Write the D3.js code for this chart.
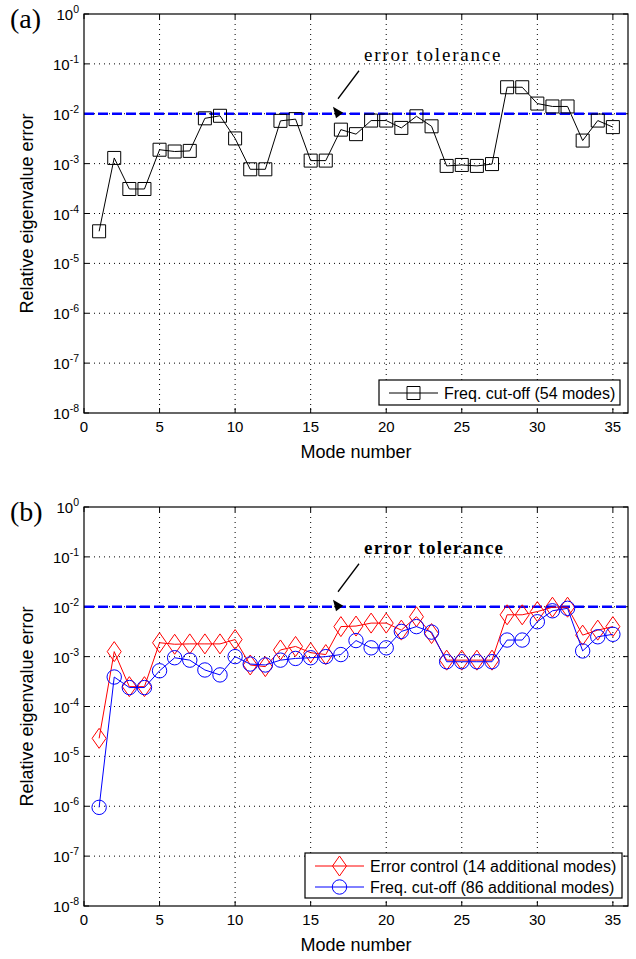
<!DOCTYPE html>
<html>
<head>
<meta charset="utf-8">
<script src="https://cdn.jsdelivr.net/npm/d3@7"></script>
<style>
  body { margin: 0; background: #fff; }
</style>
</head>
<body>
<div id="chart"></div>
<script>
var modes = [1,2,3,4,5,6,7,8,9,10,11,12,13,14,15,16,17,18,19,20,21,22,23,24,25,26,27,28,29,30,31,32,33,34,35]
var xTicks = [0,5,10,15,20,25,30,35]
var yExps = [0,-1,-2,-3,-4,-5,-6,-7,-8]
var tolerance = 1e-2

// panel (a): frequency cut-off, 54 modes
var freqA = [4.4e-5, 1.3e-3, 3.1e-4, 3.1e-4, 1.9e-3, 1.75e-3, 1.8e-3, 8.1e-3, 9.1e-3, 3.2e-3,
  7.7e-4, 7.7e-4, 7.2e-3, 7.8e-3, 1.15e-3, 1.15e-3, 4.8e-3, 3.9e-3, 7.3e-3, 7.3e-3,
  5.2e-3, 8.9e-3, 5.6e-3, 9.0e-4, 9.4e-4, 9.0e-4, 9.8e-4, 3.4e-2, 3.4e-2, 1.6e-2,
  1.4e-2, 1.4e-2, 2.9e-3, 7.3e-3, 5.4e-3]

// panel (b)
var errCtrl = [2.3e-5, 1.26e-3, 2.5e-4, 2.5e-4, 1.9e-3, 1.77e-3, 1.8e-3, 1.8e-3, 1.8e-3, 2.2e-3,
  6.8e-4, 6.3e-4, 1.36e-3, 1.6e-3, 1.2e-3, 1.1e-3, 4.0e-3, 4.1e-3, 4.7e-3, 4.7e-3,
  3.4e-3, 6.3e-3, 2.9e-3, 8.5e-4, 8.5e-4, 8.5e-4, 8.5e-4, 6.9e-3, 6.9e-3, 8.0e-3,
  9.8e-3, 9.8e-3, 2.7e-3, 3.4e-3, 4.0e-3]
var freqB = [9.5e-7, 3.9e-4, 2.4e-4, 2.4e-4, 5.2e-4, 9.5e-4, 8.5e-4, 5.4e-4, 4.3e-4, 1.0e-3,
  7.1e-4, 6.8e-4, 8.5e-4, 9.2e-4, 9.5e-4, 1.0e-3, 1.1e-3, 2.1e-3, 1.5e-3, 1.5e-3,
  3.2e-3, 4.0e-3, 3.1e-3, 7.9e-4, 7.9e-4, 7.9e-4, 7.9e-4, 2.15e-3, 2.15e-3, 5.0e-3,
  8.3e-3, 9.3e-3, 1.3e-3, 2.5e-3, 2.8e-3]

var W = 636, H = 959
var svg = d3.select("#chart").append("svg").attr("width", W).attr("height", H)
  .attr("font-family", "Liberation Sans, Arial, sans-serif")
var serif = "Liberation Serif, Times New Roman, serif"

var left = 84, right = 628

function panel(top, bottom, label, series, legend, legBox, boldNote) {
  var x = d3.scaleLinear().domain([0, 36]).range([left, right])
  var y = d3.scaleLog().domain([1e-8, 1]).range([bottom, top])
  var g = svg.append("g")

  // grid
  g.selectAll(".gx").data(xTicks.slice(1)).enter().append("line")
    .attr("x1", function(d) {return x(d)}).attr("x2", function(d) {return x(d)})
    .attr("y1", top).attr("y2", bottom)
    .attr("stroke", "#000").attr("stroke-width", 1).attr("stroke-dasharray", "1,4")
  g.selectAll(".gy").data(yExps.slice(1, -1)).enter().append("line")
    .attr("x1", left).attr("x2", right)
    .attr("y1", function(d) {return y(Math.pow(10, d))}).attr("y2", function(d) {return y(Math.pow(10, d))})
    .attr("stroke", "#000").attr("stroke-width", 1).attr("stroke-dasharray", "1,4")

  // inward ticks on all sides
  xTicks.forEach(function(t) {
    g.append("line").attr("x1", x(t)).attr("x2", x(t)).attr("y1", bottom).attr("y2", bottom - 5).attr("stroke", "#000")
    g.append("line").attr("x1", x(t)).attr("x2", x(t)).attr("y1", top).attr("y2", top + 5).attr("stroke", "#000")
    g.append("text").attr("x", x(t)).attr("y", bottom + 19).attr("text-anchor", "middle")
      .attr("font-size", 15).text(t)
  })
  yExps.forEach(function(e) {
    var yy = y(Math.pow(10, e))
    g.append("line").attr("x1", left).attr("x2", left + 5).attr("y1", yy).attr("y2", yy).attr("stroke", "#000")
    g.append("line").attr("x1", right).attr("x2", right - 5).attr("y1", yy).attr("y2", yy).attr("stroke", "#000")
    var t = g.append("text").attr("x", 79).attr("y", yy + 6).attr("text-anchor", "end").attr("font-size", 15)
    t.append("tspan").text("10")
    t.append("tspan").attr("dy", -7).attr("font-size", 10.5).text(e)
  })

  // tolerance line
  g.append("line").attr("x1", left).attr("x2", right)
    .attr("y1", y(tolerance)).attr("y2", y(tolerance))
    .attr("stroke", "#0000ff").attr("stroke-width", 2.5).attr("stroke-dasharray", "10,4")

  // series
  series.forEach(function(s) {
    var pts = modes.map(function(m, i) {return [x(m), y(s.values[i])]})
    g.append("path").attr("d", d3.line()(pts)).attr("fill", "none")
      .attr("stroke", s.color).attr("stroke-width", 1)
    g.selectAll(null).data(pts).enter().append("path")
      .attr("transform", function(d) {return "translate(" + d[0] + "," + d[1] + ")"})
      .attr("d", markerPath(s.marker))
      .attr("fill", "none").attr("stroke", s.color).attr("stroke-width", 1)
  })

  // frame
  g.append("rect").attr("x", left).attr("y", top).attr("width", right - left).attr("height", bottom - top)
    .attr("fill", "none").attr("stroke", "#000").attr("stroke-width", 1.2)

  // annotation
  var ty = y(tolerance)
  g.append("text").attr("x", 364).attr("y", ty - 53)
    .attr("font-family", serif)
    .attr("font-size", 19).attr("font-weight", boldNote ? "bold" : "normal")
    .attr("letter-spacing", boldNote ? 1.2 : 1.8).text("error tolerance")
  g.append("line").attr("x1", 359).attr("y1", ty - 43).attr("x2", 338).attr("y2", ty - 15)
    .attr("stroke", "#000").attr("stroke-width", 1.3)
  var ax = 333, ay = ty - 7, ang = Math.atan2(-28, -21)
  var hl = 11, hw = 4.5
  var bx = ax - hl * Math.cos(ang), by = ay - hl * Math.sin(ang)
  g.append("path").attr("d", "M" + ax + "," + ay +
      "L" + (bx - hw * Math.sin(ang)) + "," + (by + hw * Math.cos(ang)) +
      "L" + (bx + hw * Math.sin(ang)) + "," + (by - hw * Math.cos(ang)) + "Z")
    .attr("fill", "#000")

  // labels
  g.append("text").attr("x", 10).attr("y", top + 14)
    .attr("font-family", serif).attr("font-size", 28).text(label)
  g.append("text").attr("transform", "translate(33," + ((top + bottom) / 2) + ") rotate(-90)")
    .attr("text-anchor", "middle").attr("font-size", 18).text("Relative eigenvalue error")
  g.append("text").attr("x", (left + right) / 2).attr("y", bottom + 45)
    .attr("text-anchor", "middle").attr("font-size", 18).text("Mode number")

  // legend
  g.append("rect").attr("x", legBox[0]).attr("y", legBox[1]).attr("width", legBox[2]).attr("height", legBox[3])
    .attr("fill", "#fff").attr("stroke", "#000").attr("stroke-width", 1.2)
  legend.forEach(function(l, i) {
    var ly = legBox[1] + 13 + i * 21
    var lx = legBox[0] + 10
    g.append("line").attr("x1", lx).attr("x2", lx + 49).attr("y1", ly).attr("y2", ly)
      .attr("stroke", l.color).attr("stroke-width", 1)
    g.append("path").attr("transform", "translate(" + (lx + 24.5) + "," + ly + ")")
      .attr("d", markerPath(l.marker)).attr("fill", "none").attr("stroke", l.color)
    g.append("text").attr("x", lx + 55).attr("y", ly + 6).attr("font-size", 16).text(l.name)
  })
}

function markerPath(m) {
  if (m === "square") return "M-6.5,-6.5H6.5V6.5H-6.5Z"
  if (m === "diamond") return "M0,-10L7,0L0,10L-7,0Z"
  return "M-7.2,0A7.2,7.2 0 1,0 7.2,0A7.2,7.2 0 1,0 -7.2,0Z"
}

panel(14, 413, "(a)",
  [{values: freqA, color: "#000", marker: "square"}],
  [{name: "Freq. cut-off (54 modes)", color: "#000", marker: "square"}],
  [379, 380, 241, 25], false)

panel(507, 906, "(b)",
  [{values: errCtrl, color: "#ff0000", marker: "diamond"},
   {values: freqB, color: "#0000ff", marker: "circle"}],
  [{name: "Error control (14 additional modes)", color: "#ff0000", marker: "diamond"},
   {name: "Freq. cut-off (86 additional modes)", color: "#0000ff", marker: "circle"}],
  [305, 853, 317, 45], true)
</script>
</body>
</html>
